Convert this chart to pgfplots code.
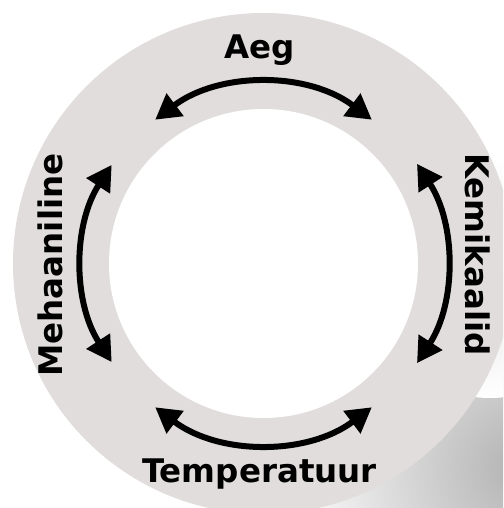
\documentclass[border=0pt]{standalone}
\usepackage{pgfplots}
\pgfplotsset{compat=1.18}
\usepackage{fontspec}
\setmainfont{DejaVu Sans}
\usetikzlibrary{arrows.meta}
\definecolor{ring}{RGB}{226,221,221}
\begin{document}
\begin{tikzpicture}
\begin{axis}[width=503pt,height=508pt,scale only axis,
  xmin=0,xmax=503,ymin=0,ymax=508,hide axis,clip=true]
% faded photo background
\shade[inner color=black!30, outer color=white] (axis cs:520,40) circle[radius=240pt];
\shade[inner color=black!10, outer color=white] (axis cs:490,230) circle[radius=120pt];
% ring
\fill[ring] (axis cs:263.5,244.5) circle[radius=250.5pt];
\fill[white] (axis cs:263.5,244.5) circle[radius=154.5pt];
% arrows
\begin{scope}[line width=6pt, {Triangle[length=25pt,width=27pt]}-{Triangle[length=25pt,width=27pt]}]
\draw ([shift={(127:180pt)}]axis cs:263.5,244.5) arc[start angle=127,end angle=53,radius=180pt];
\draw ([shift={(233:180pt)}]axis cs:263.5,244.5) arc[start angle=233,end angle=307,radius=180pt];
\draw ([shift={(147:181pt)}]axis cs:263.5,244.5) arc[start angle=147,end angle=213,radius=181pt];
\draw ([shift={(33:183pt)}]axis cs:263.5,244.5) arc[start angle=33,end angle=-33,radius=183pt];
\end{scope}
% labels
\begin{scope}[every node/.style={font=\fontsize{32.5}{38}\selectfont\bfseries, inner sep=0pt, anchor=base}]
\node at (axis cs:259.5,449.7) {Aeg};
\node at (axis cs:259.5,25.3) {Temperatuur};
\node[rotate=90] at (axis cs:62,243) {Mehaaniline};
\node[rotate=-90] at (axis cs:465,253.5) {Kemikaalid};
\end{scope}
\end{axis}
\pgfresetboundingbox
\path (current axis.south west) rectangle (current axis.north east);
\end{tikzpicture}
\end{document}
